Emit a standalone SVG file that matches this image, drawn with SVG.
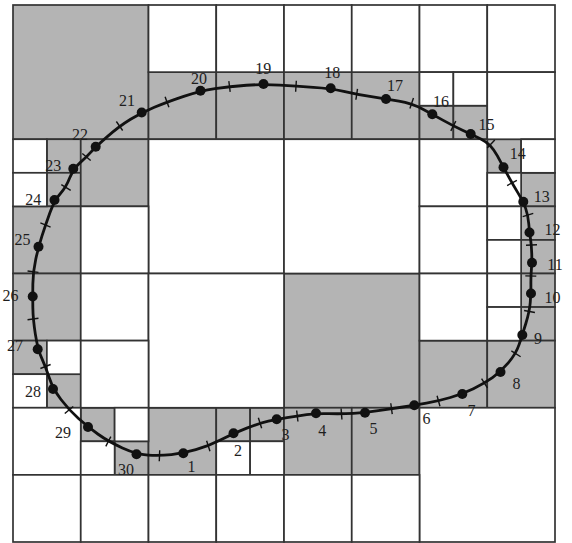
<svg xmlns="http://www.w3.org/2000/svg" width="572" height="543" viewBox="0 0 572 543">
<defs>
<style>
.g{fill:#b4b4b4;stroke:#333;stroke-width:1.7}
.w{fill:#ffffff;stroke:#333;stroke-width:1.7}
.curve{fill:none;stroke:#111;stroke-width:2.8;stroke-linejoin:round}
.ticks{fill:none;stroke:none;marker-mid:url(#tick)}
.dot{fill:#111}
.lbl{font-family:"Liberation Serif","Times New Roman",serif;font-size:16px;fill:#1e1e1e;text-anchor:middle}
</style>
<marker id="tick" markerUnits="userSpaceOnUse" markerWidth="14" markerHeight="14" refX="7" refY="7" orient="auto" overflow="visible">
<line x1="7" y1="1.5" x2="7" y2="12.5" stroke="#111" stroke-width="1.4"/>
</marker>
</defs>
<rect x="0" y="0" width="572" height="543" fill="#ffffff"/>
<g id="grid">
<rect class="g" x="13" y="5" width="135.5" height="134.25"/>
<rect class="g" x="148.5" y="72.125" width="67.75" height="67.125"/>
<rect class="g" x="216.25" y="72.125" width="67.75" height="67.125"/>
<rect class="g" x="284" y="72.125" width="67.75" height="67.125"/>
<rect class="g" x="351.75" y="72.125" width="67.75" height="67.125"/>
<rect class="g" x="419.5" y="105.6875" width="33.875" height="33.5625"/>
<rect class="g" x="453.375" y="105.6875" width="33.875" height="33.5625"/>
<rect class="g" x="46.875" y="139.25" width="33.875" height="33.5625"/>
<rect class="g" x="46.875" y="172.8125" width="33.875" height="33.5625"/>
<rect class="g" x="80.75" y="139.25" width="67.75" height="67.125"/>
<rect class="g" x="487.25" y="139.25" width="33.875" height="33.5625"/>
<rect class="g" x="521.125" y="172.8125" width="33.875" height="33.5625"/>
<rect class="g" x="13" y="206.375" width="67.75" height="67.125"/>
<rect class="g" x="521.125" y="206.375" width="33.875" height="33.5625"/>
<rect class="g" x="521.125" y="239.9375" width="33.875" height="33.5625"/>
<rect class="g" x="13" y="273.5" width="67.75" height="67.125"/>
<rect class="g" x="284" y="273.5" width="135.5" height="134.25"/>
<rect class="g" x="521.125" y="273.5" width="33.875" height="33.5625"/>
<rect class="g" x="521.125" y="307.0625" width="33.875" height="33.5625"/>
<rect class="g" x="13" y="340.625" width="33.875" height="33.5625"/>
<rect class="g" x="46.875" y="374.1875" width="33.875" height="33.5625"/>
<rect class="g" x="419.5" y="340.625" width="67.75" height="67.125"/>
<rect class="g" x="487.25" y="340.625" width="67.75" height="67.125"/>
<rect class="g" x="80.75" y="407.75" width="33.875" height="33.5625"/>
<rect class="g" x="114.625" y="441.3125" width="33.875" height="33.5625"/>
<rect class="g" x="148.5" y="407.75" width="67.75" height="67.125"/>
<rect class="g" x="216.25" y="407.75" width="33.875" height="33.5625"/>
<rect class="g" x="250.125" y="407.75" width="33.875" height="33.5625"/>
<rect class="g" x="284" y="407.75" width="67.75" height="67.125"/>
<rect class="g" x="351.75" y="407.75" width="67.75" height="67.125"/>
<rect class="w" x="148.5" y="5" width="67.75" height="67.125"/>
<rect class="w" x="216.25" y="5" width="67.75" height="67.125"/>
<rect class="w" x="284" y="5" width="67.75" height="67.125"/>
<rect class="w" x="351.75" y="5" width="67.75" height="67.125"/>
<rect class="w" x="419.5" y="5" width="67.75" height="67.125"/>
<rect class="w" x="487.25" y="5" width="67.75" height="67.125"/>
<rect class="w" x="419.5" y="72.125" width="33.875" height="33.5625"/>
<rect class="w" x="453.375" y="72.125" width="33.875" height="33.5625"/>
<rect class="w" x="487.25" y="72.125" width="67.75" height="67.125"/>
<rect class="w" x="13" y="139.25" width="33.875" height="33.5625"/>
<rect class="w" x="13" y="172.8125" width="33.875" height="33.5625"/>
<rect class="w" x="148.5" y="139.25" width="135.5" height="134.25"/>
<rect class="w" x="284" y="139.25" width="135.5" height="134.25"/>
<rect class="w" x="419.5" y="139.25" width="67.75" height="67.125"/>
<rect class="w" x="419.5" y="206.375" width="67.75" height="67.125"/>
<rect class="w" x="521.125" y="139.25" width="33.875" height="33.5625"/>
<rect class="w" x="487.25" y="172.8125" width="33.875" height="33.5625"/>
<rect class="w" x="80.75" y="206.375" width="67.75" height="67.125"/>
<rect class="w" x="487.25" y="206.375" width="33.875" height="33.5625"/>
<rect class="w" x="487.25" y="239.9375" width="33.875" height="33.5625"/>
<rect class="w" x="80.75" y="273.5" width="67.75" height="67.125"/>
<rect class="w" x="148.5" y="273.5" width="135.5" height="134.25"/>
<rect class="w" x="419.5" y="273.5" width="67.75" height="67.125"/>
<rect class="w" x="487.25" y="273.5" width="33.875" height="33.5625"/>
<rect class="w" x="487.25" y="307.0625" width="33.875" height="33.5625"/>
<rect class="w" x="46.875" y="340.625" width="33.875" height="33.5625"/>
<rect class="w" x="13" y="374.1875" width="33.875" height="33.5625"/>
<rect class="w" x="80.75" y="340.625" width="67.75" height="67.125"/>
<rect class="w" x="13" y="407.75" width="67.75" height="67.125"/>
<rect class="w" x="114.625" y="407.75" width="33.875" height="33.5625"/>
<rect class="w" x="80.75" y="441.3125" width="33.875" height="33.5625"/>
<rect class="w" x="216.25" y="441.3125" width="33.875" height="33.5625"/>
<rect class="w" x="250.125" y="441.3125" width="33.875" height="33.5625"/>
<rect class="w" x="419.5" y="407.75" width="135.5" height="134.25"/>
<rect class="w" x="13" y="474.875" width="67.75" height="67.125"/>
<rect class="w" x="80.75" y="474.875" width="67.75" height="67.125"/>
<rect class="w" x="148.5" y="474.875" width="67.75" height="67.125"/>
<rect class="w" x="216.25" y="474.875" width="67.75" height="67.125"/>
<rect class="w" x="284" y="474.875" width="67.75" height="67.125"/>
<rect class="w" x="351.75" y="474.875" width="67.75" height="67.125"/>
</g>
<g id="contour">
<path class="curve" d="M 171.4 454.55 Q 183.3 453.3 195.8 449.65 Q 208.3 446 220.9 439.65 Q 233.5 433.3 246.75 428.15 Q 260 423 268.35 421.15 Q 276.7 419.3 287 417.65 Q 297.3 416 306.65 414.65 Q 316 413.3 328.75 413.65 Q 341.5 414 353.25 413.35 Q 365 412.7 378.25 410.7 Q 391.5 408.7 402.9 407 Q 414.3 405.3 426.4 403.15 Q 438.5 401 450.4 397.5 Q 462.3 394 473.4 388.65 Q 484.5 383.3 492.5 377.65 Q 500.5 372 508.25 362.9 Q 516 353.8 519.15 344.4 Q 522.3 335 525.9 323.25 Q 529.5 311.5 530.25 302.5 Q 531 293.5 530.9 284.75 Q 530.8 276 531.4 269.35 Q 532 262.7 531.75 253.85 Q 531.5 245 530.5 238.75 Q 529.5 232.5 528.75 223.75 Q 528 215 525.65 208.35 Q 523.3 201.7 517.65 192.35 Q 512 183 507.75 175.15 Q 503.5 167.3 497.25 155.65 Q 491 144 480.85 139 Q 470.7 134 462 130 Q 453.3 126 442.8 120.15 Q 432.3 114.3 422 108.8 Q 411.7 103.3 398.85 101.15 Q 386 99 371.35 96.65 Q 356.7 94.3 343.7 91.3 Q 330.7 88.3 313.35 87.3 Q 296 86.3 279.75 85.15 Q 263.5 84 246.5 85.25 Q 229.5 86.5 215 88.6 Q 200.5 90.7 183.75 96.35 Q 167 102 154.35 107.25 Q 141.7 112.5 130.6 119.25 Q 119.5 126 107.6 136.35 Q 95.7 146.7 91.1 151.85 Q 86.5 157 79.9 162.85 Q 73.3 168.7 69.65 178.1 Q 66 187.5 60.25 193.75 Q 54.5 200 50 212.5 Q 45.5 225 42 235.85 Q 38.5 246.7 35.75 259.2 Q 33 271.7 32.85 284.1 Q 32.7 296.5 32.85 307.75 Q 33 319 35.35 334.15 Q 37.7 349.3 41.6 357.9 Q 45.5 366.5 49.25 377.75 Q 53 389 61 399.5 Q 69 410 78.5 418.5 Q 88 427 98.15 434.25 Q 108.3 441.5 122.4 447.9 Q 136.5 454.3 148 455.05 Q 159.5 455.8 171.4 454.55 Z"/>
<path class="ticks" d="M 159.5 455.8 L 208.3 446 L 260 423 L 297.3 416 L 341.5 414 L 391.5 408.7 L 438.5 401 L 484.5 383.3 L 516 353.8 L 529.5 311.5 L 530.8 276 L 531.5 245 L 528 215 L 512 183 L 491 144 L 453.3 126 L 411.7 103.3 L 356.7 94.3 L 296 86.3 L 229.5 86.5 L 167 102 L 119.5 126 L 86.5 157 L 66 187.5 L 45.5 225 L 33 271.7 L 33 319 L 45.5 366.5 L 69 410 L 108.3 441.5 L 159.5 455.8 L 208.3 446"/>
<g class="dot">
<circle cx="183.3" cy="453.3" r="5"/>
<circle cx="233.5" cy="433.3" r="5"/>
<circle cx="276.7" cy="419.3" r="5"/>
<circle cx="316" cy="413.3" r="5"/>
<circle cx="365" cy="412.7" r="5"/>
<circle cx="414.3" cy="405.3" r="5"/>
<circle cx="462.3" cy="394" r="5"/>
<circle cx="500.5" cy="372" r="5"/>
<circle cx="522.3" cy="335" r="5"/>
<circle cx="531" cy="293.5" r="5"/>
<circle cx="532" cy="262.7" r="5"/>
<circle cx="529.5" cy="232.5" r="5"/>
<circle cx="523.3" cy="201.7" r="5"/>
<circle cx="503.5" cy="167.3" r="5"/>
<circle cx="470.7" cy="134" r="5"/>
<circle cx="432.3" cy="114.3" r="5"/>
<circle cx="386" cy="99" r="5"/>
<circle cx="330.7" cy="88.3" r="5"/>
<circle cx="263.5" cy="84" r="5"/>
<circle cx="200.5" cy="90.7" r="5"/>
<circle cx="141.7" cy="112.5" r="5"/>
<circle cx="95.7" cy="146.7" r="5"/>
<circle cx="73.3" cy="168.7" r="5"/>
<circle cx="54.5" cy="200" r="5"/>
<circle cx="38.5" cy="246.7" r="5"/>
<circle cx="32.7" cy="296.5" r="5"/>
<circle cx="37.7" cy="349.3" r="5"/>
<circle cx="53" cy="389" r="5"/>
<circle cx="88" cy="427" r="5"/>
<circle cx="136.5" cy="454.3" r="5"/>
</g>
</g>
<g id="labels" class="lbl">
<text x="191.5" y="472">1</text>
<text x="238" y="455.5">2</text>
<text x="285.5" y="439.5">3</text>
<text x="322.3" y="436">4</text>
<text x="373.5" y="433.8">5</text>
<text x="426.5" y="423.8">6</text>
<text x="471.5" y="415.5">7</text>
<text x="516.5" y="389">8</text>
<text x="538" y="344">9</text>
<text x="552.5" y="303">10</text>
<text x="555" y="269.5">11</text>
<text x="552.5" y="235">12</text>
<text x="541.7" y="201.5">13</text>
<text x="517.7" y="158.8">14</text>
<text x="486.5" y="129.5">15</text>
<text x="441" y="107.2">16</text>
<text x="395" y="90.5">17</text>
<text x="332.3" y="78.2">18</text>
<text x="263.3" y="73.8">19</text>
<text x="199" y="83.8">20</text>
<text x="127" y="105.5">21</text>
<text x="80" y="139.5">22</text>
<text x="53.3" y="170.5">23</text>
<text x="33.3" y="204.5">24</text>
<text x="22.5" y="245">25</text>
<text x="10.5" y="300.5">26</text>
<text x="15" y="350.5">27</text>
<text x="33" y="397.2">28</text>
<text x="63" y="437.5">29</text>
<text x="126" y="474.8">30</text>
</g>
</svg>
